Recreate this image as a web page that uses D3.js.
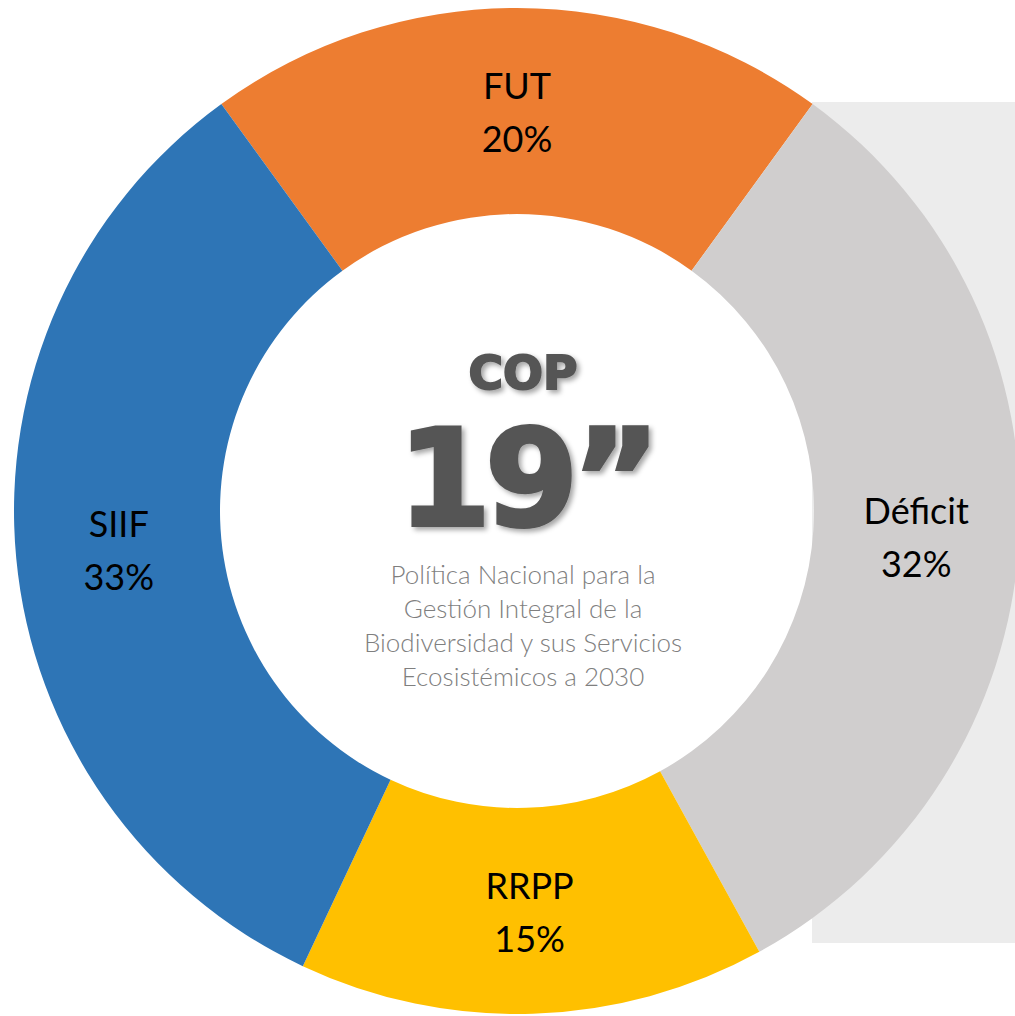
<!DOCTYPE html>
<html>
<head>
<meta charset="utf-8">
<title>COP 19</title>
<script src="https://d3js.org/d3.v7.min.js"></script>
<style>
  body { margin: 0; background: #fff; }
  svg { display: block; }
</style>
</head>
<body>
<script>
// datos
var categorias = ["FUT", "Déficit", "RRPP", "SIIF"];
var valores = [20, 32, 15, 33];
var colores = ["#ED7D31", "#D0CECE", "#FFC000", "#2E75B6"];
var textoCentro = ["Política Nacional para la", "Gestión Integral de la",
                   "Biodiversidad y sus Servicios", "Ecosistémicos a 2030"];

var width = 1015, height = 1016;
var cx = 517, cy = 511, rOut = 503, rIn = 297;

var svg = d3.select("body").append("svg")
    .attr("width", width)
    .attr("height", height);

var defs = svg.append("defs");
var f = defs.append("filter").attr("id", "sombra")
    .attr("x", "-20%").attr("y", "-20%").attr("width", "140%").attr("height", "140%");
f.append("feDropShadow")
    .attr("dx", 3).attr("dy", 3).attr("stdDeviation", 2.5)
    .attr("flood-color", "#000").attr("flood-opacity", 0.35);

// fondo gris a la derecha
svg.append("rect")
    .attr("x", 812).attr("y", 102)
    .attr("width", width - 812).attr("height", 943 - 102)
    .attr("fill", "#ECECEC");

var pie = d3.pie().sort(null).value(d => d)
    .startAngle(-36 * Math.PI / 180)
    .endAngle(324 * Math.PI / 180);

var arc = d3.arc().innerRadius(rIn).outerRadius(rOut);
var arcLabel = d3.arc().innerRadius((rIn + rOut) / 2).outerRadius((rIn + rOut) / 2);

var g = svg.append("g").attr("transform", "translate(" + cx + "," + cy + ")");

var arcs = pie(valores);

g.selectAll("path.slice")
    .data(arcs)
    .enter().append("path")
    .attr("class", "slice")
    .attr("d", arc)
    .attr("fill", (d, i) => colores[i]);

var lab = g.selectAll("text.lab")
    .data(arcs)
    .enter().append("text")
    .attr("class", "lab")
    .attr("transform", d => "translate(" + arcLabel.centroid(d) + ")")
    .attr("text-anchor", "middle")
    .style("font-family", "Lato, 'Open Sans', sans-serif")
    .style("font-size", "36px")
    .attr("fill", "#000");

lab.append("tspan").attr("x", 0).attr("y", -12).text((d, i) => categorias[i]);
lab.append("tspan").attr("x", 0).attr("y", 41).text(d => d.value + "%");

// texto central
svg.append("text")
    .attr("x", 523).attr("y", 389)
    .attr("text-anchor", "middle")
    .attr("filter", "url(#sombra)")
    .style("font-family", "'DejaVu Sans', sans-serif")
    .style("font-weight", "bold")
    .style("font-size", "47px")
    .attr("fill", "#555555")
    .attr("stroke", "#555555")
    .attr("stroke-width", 2)
    .text("COP");

svg.append("text")
    .attr("x", 526).attr("y", 525)
    .attr("text-anchor", "middle")
    .attr("filter", "url(#sombra)")
    .style("font-family", "'DejaVu Sans', sans-serif")
    .style("font-weight", "bold")
    .style("font-size", "134px")
    .style("letter-spacing", "-6px")
    .attr("fill", "#555555")
    .attr("stroke", "#555555")
    .attr("stroke-width", 4)
    .text("19”");

svg.append("g").selectAll("text")
    .data(textoCentro)
    .enter().append("text")
    .attr("x", 523)
    .attr("y", (d, i) => 584 + i * 34)
    .attr("text-anchor", "middle")
    .style("font-family", "Lato, 'Open Sans', sans-serif")
    .style("font-weight", 300)
    .style("font-size", "26px")
    .attr("fill", "#7F7F7F")
    .text(d => d);
</script>
</body>
</html>
